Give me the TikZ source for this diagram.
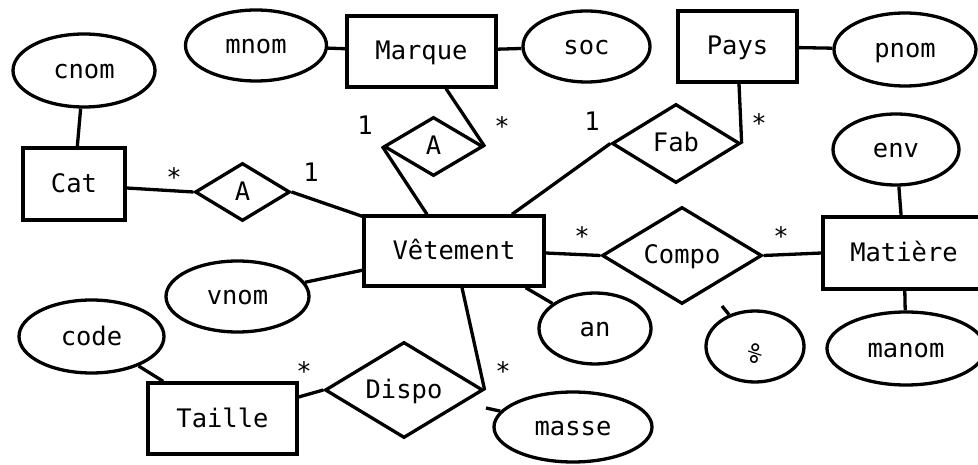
\documentclass[tikz,border=0pt]{standalone}
\usepackage{fontspec}
\newfontfamily\ermono{DejaVu Sans Mono}
\usetikzlibrary{shapes.geometric,calc}
\begin{document}
\begin{tikzpicture}[x=1pt,y=-1pt,
  erfont/.style={font=\ermono\fontsize{25.5}{30}\selectfont},
  er/.style={erfont, draw=black, line width=3.3pt, inner sep=0pt,
             text height=18pt, text depth=1pt},
  entity/.style={er, rectangle},
  attr/.style={er, ellipse},
  rel/.style={er, diamond},
  link/.style={line width=3.3pt},
  card/.style={erfont, inner sep=0pt, anchor=base}
]
\useasboundingbox (0,0) rectangle (978,465);

% entities
\node[entity, minimum width=102pt, minimum height=72pt] (cat)    at (74,184)    {Cat};
\node[entity, minimum width=149pt, minimum height=71pt] (marque) at (421.5,51.5) {Marque};
\node[entity, minimum width=119pt, minimum height=71pt] (pays)   at (737.5,46.5) {Pays};
\node[entity, minimum width=180pt, minimum height=70pt] (vet)    at (454,251)   {Vêtement};
\node[entity, minimum width=162pt, minimum height=72pt] (mat)    at (904,253)   {Matière};
\node[entity, minimum width=149pt, minimum height=71pt] (taille) at (222.5,418.5) {Taille};

% attributes
\node[attr, minimum width=142pt, minimum height=73pt] (cnom)  at (84,70.5)    {cnom};
\node[attr, minimum width=141pt, minimum height=71pt] (mnom)  at (256,45.5)   {mnom};
\node[attr, minimum width=127pt, minimum height=71pt] (soc)   at (586.5,46.5) {soc};
\node[attr, minimum width=142pt, minimum height=73pt] (pnom)  at (905,49.5)   {pnom};
\node[attr, minimum width=126pt, minimum height=71pt] (env)   at (896,149.5)  {env};
\node[attr, minimum width=143pt, minimum height=71pt] (vnom)  at (237.5,296.5) {vnom};
\node[attr, minimum width=145pt, minimum height=73pt] (code)  at (91.5,336.5) {code};
\node[attr, minimum width=112pt, minimum height=71pt] (an)    at (595,328.5)  {an};
\node[attr, minimum width=98pt,  minimum height=71pt] (pct)   at (755,346.5)  {\rotatebox{-40}{\%}};
\node[attr, minimum width=158pt, minimum height=73pt] (manom) at (906,348.5)  {manom};
\node[attr, minimum width=158pt, minimum height=70pt] (masse) at (573,427)    {masse};

% relationships
\node[rel, minimum width=95pt,  minimum height=58pt] (a1)    at (242.5,192)  {A};
\node[rel, minimum width=99pt,  minimum height=59pt] (a2)    at (433.5,146.5) {A};
\node[rel, minimum width=128pt, minimum height=79pt] (fab)   at (676,143.5)  {Fab};
\node[rel, minimum width=160pt, minimum height=97pt] (compo) at (682,255.5)  {Compo};
\node[rel, minimum width=158pt, minimum height=96pt] (dispo) at (404,390)    {Dispo};

% attribute links
\draw[link] (cnom) -- (cat);
\draw[link] (mnom) -- (marque);
\draw[link] (soc) -- (marque);
\draw[link] (pays) -- (pnom);
\draw[link] (env) -- (mat);
\draw[link] (mat) -- (manom);
\draw[link] (vnom) -- (vet);
\draw[link] (code) -- (taille);
\draw[link] ($(vet.south east)+(-20,0)$) -- (an);
\coordinate (pctend) at (722,306);
\draw[link] (pctend) -- (pct);
\coordinate (masseend) at (486,408);
\draw[link] (masseend) -- (masse);

% relationship links
\draw[link] ($(cat.east)+(0,4)$) -- (a1.west);
\draw[link] (a1.east) -- ($(vet.north west)+(0,2)$);
\draw[link] ($(marque.south)+(24.5,0)$) -- (a2.east);
\draw[link] (a2.west) -- ($(vet.north)+(-27,0)$);
\draw[link] ($(vet.north)+(58,0)$) -- (fab.west);
\draw[link] (fab.east) -- ($(pays.south)+(1.5,0)$);
\draw[link] ($(vet.east)+(0,2)$) -- (compo.west);
\draw[link] (compo.east) -- (mat.west);
\draw[link] ($(vet.south)+(8,0)$) -- (dispo.east);
\draw[link] ($(taille.east)+(0,-21.5)$) -- (dispo.west);

% cardinalities
\node[card] (c1)  at (174,187)  {*};
\node[card] (c2)  at (311,182)  {1};
\node[card] (c3)  at (365,135)  {1};
\node[card] (c4)  at (502,136)  {*};
\node[card] (c5)  at (592,131)  {1};
\node[card] (c6)  at (759,133)  {*};
\node[card] (c7)  at (582,246)  {*};
\node[card] (c8)  at (781,246)  {*};
\node[card] (c9)  at (304,380)  {*};
\node[card] (c10) at (503,380)  {*};
\end{tikzpicture}
\end{document}
